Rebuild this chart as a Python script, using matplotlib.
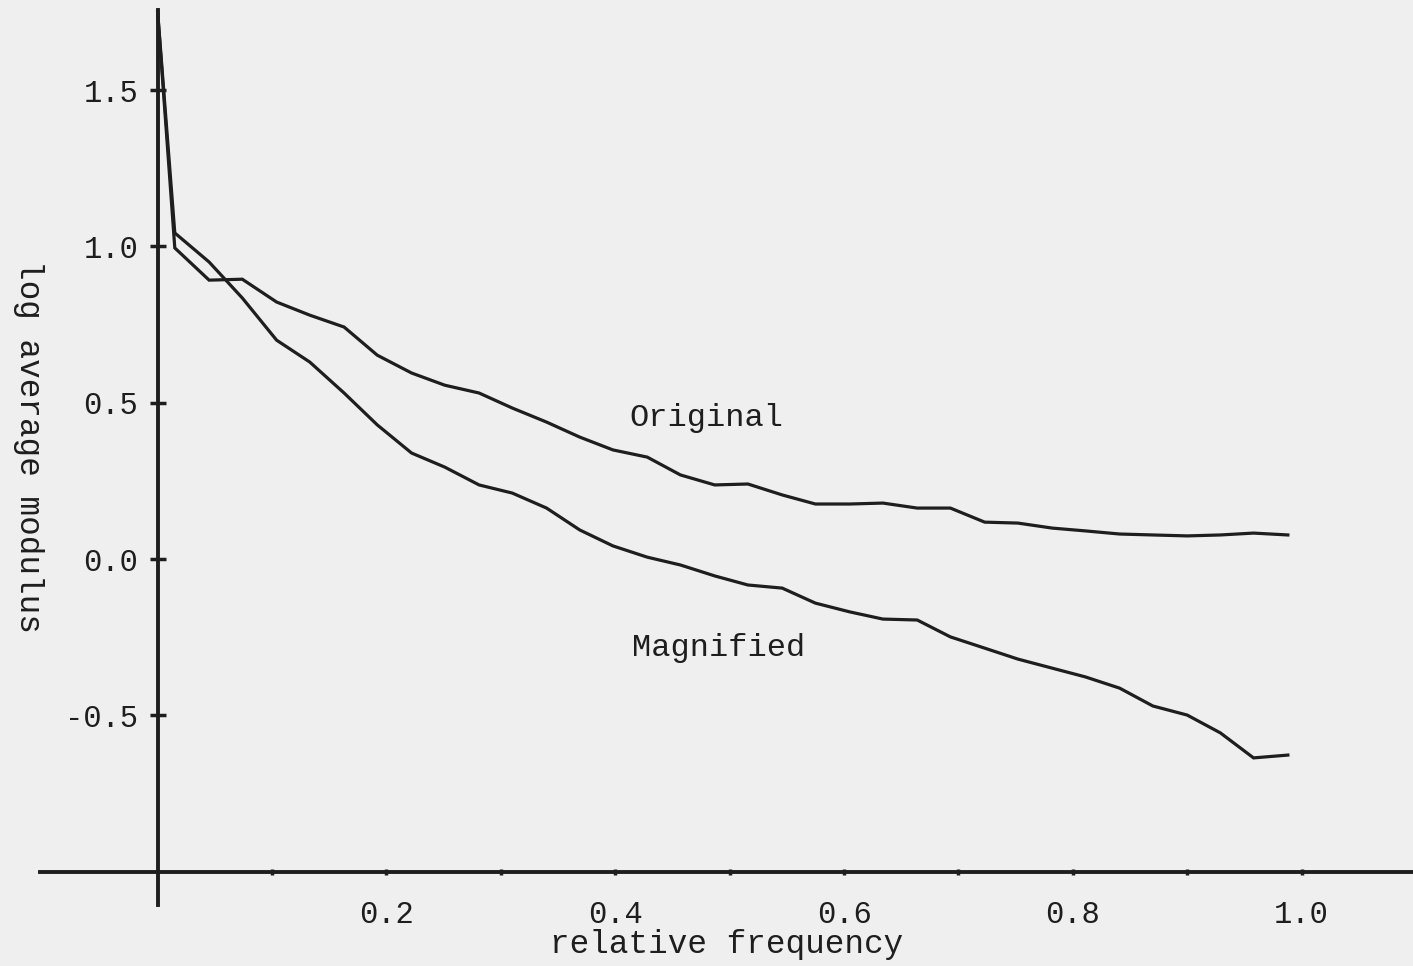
import numpy as np
import matplotlib
matplotlib.use("Agg")
import matplotlib.pyplot as plt
from matplotlib.ticker import FixedLocator, FixedFormatter

plt.rcParams['font.family'] = ['Liberation Mono', 'DejaVu Sans Mono']
plt.rcParams['axes.unicode_minus'] = False

# relative frequency sample points
freq = [0.0, 0.015, 0.045, 0.074, 0.104, 0.133, 0.163, 0.192, 0.222, 0.251,
        0.281, 0.310, 0.340, 0.369, 0.398, 0.428, 0.457, 0.487, 0.516, 0.546,
        0.575, 0.605, 0.634, 0.664, 0.693, 0.723, 0.752, 0.782, 0.811, 0.841,
        0.870, 0.900, 0.929, 0.958, 0.988]

original = [1.75, 0.995, 0.892, 0.895, 0.822, 0.780, 0.742, 0.652, 0.595, 0.556,
            0.531, 0.483, 0.438, 0.390, 0.349, 0.326, 0.269, 0.237, 0.240, 0.205,
            0.176, 0.176, 0.179, 0.163, 0.163, 0.118, 0.115, 0.099, 0.090, 0.080,
            0.077, 0.074, 0.077, 0.083, 0.077]

magnified = [1.75, 1.043, 0.950, 0.835, 0.700, 0.630, 0.531, 0.429, 0.339, 0.294,
             0.237, 0.211, 0.163, 0.093, 0.042, 0.006, -0.019, -0.054, -0.083, -0.093,
             -0.141, -0.169, -0.192, -0.195, -0.249, -0.285, -0.320, -0.349, -0.377, -0.413,
             -0.470, -0.499, -0.556, -0.636, -0.627]

x_major = [0.2, 0.4, 0.6, 0.8, 1.0]
x_major_labels = ['0.2', '0.4', '0.6', '0.8', '1.0']
x_minor = [0.1, 0.3, 0.5, 0.7, 0.9]
y_ticks = [-0.5, 0.0, 0.5, 1.0, 1.5]
y_labels = ['-0.5', '0.0', '0.5', '1.0', '1.5']

ink = '#1e1e1e'
bg = '#efefef'

fig = plt.figure(figsize=(14.13, 9.66), dpi=100, facecolor=bg)
ax = fig.add_axes([0, 0, 1, 1], facecolor=bg)

ax.plot(freq, original, color=ink, lw=2.3, solid_joinstyle='miter')
ax.plot(freq, magnified, color=ink, lw=2.3, solid_joinstyle='miter')

ax.text(0.48, 0.45, 'Original', fontsize=23, ha='center', va='center', color=ink)
ax.text(0.49, -0.285, 'Magnified', fontsize=23, ha='center', va='center', color=ink)

ax.set_xlim(-0.1378, 1.0974)
ax.set_ylim(-1.3016, 1.788)

for s in ['top', 'right']:
    ax.spines[s].set_visible(False)
ax.spines['left'].set_position(('data', 0.0))
ax.spines['bottom'].set_position(('data', -1.0))
ax.spines['left'].set_bounds(-1.107, 1.756)
ax.spines['bottom'].set_bounds(-0.103, 1.0974)
for s in ['left', 'bottom']:
    ax.spines[s].set_linewidth(2.8)
    ax.spines[s].set_color(ink)

ax.xaxis.set_major_locator(FixedLocator(x_major))
ax.xaxis.set_major_formatter(FixedFormatter(x_major_labels))
ax.xaxis.set_minor_locator(FixedLocator(x_minor))
ax.yaxis.set_major_locator(FixedLocator(y_ticks))
ax.yaxis.set_major_formatter(FixedFormatter(y_labels))

ax.tick_params(axis='x', which='both', direction='inout', length=5, width=2.5,
               color=ink, labelsize=22, labelcolor=ink, pad=18)
ax.tick_params(axis='y', direction='inout', length=12, width=2.5,
               color=ink, labelsize=22, labelcolor=ink, pad=8)

ax.set_xlabel('relative frequency', fontsize=23.5, color=ink)
ax.xaxis.set_label_coords(727 / 1413, 1 - 945 / 966)
ax.xaxis.label.set_verticalalignment('center')
ax.set_ylabel('log average modulus', fontsize=23.5, color=ink, rotation=270)
ax.yaxis.set_label_coords(28 / 1413, 1 - 446 / 966)
ax.yaxis.label.set_verticalalignment('center')
ax.yaxis.label.set_horizontalalignment('center')

fig.savefig('out.png', dpi=100, facecolor=bg)
